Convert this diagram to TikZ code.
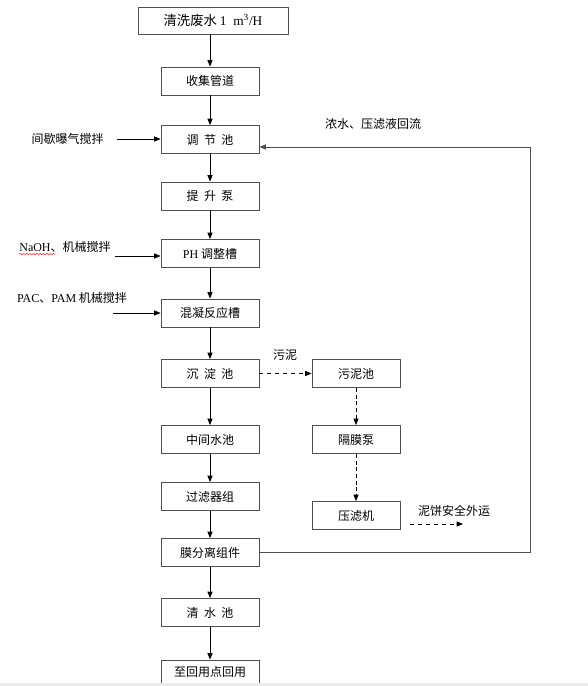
\documentclass[tikz,border=0pt]{standalone}
\usepackage{fontspec}
\setmainfont{Liberation Serif}
\newfontfamily\cjk{Noto Sans CJK SC}
\usepackage{xcolor}
\usetikzlibrary{arrows.meta,decorations.pathmorphing}
\definecolor{ink}{HTML}{505050}

\begin{document}
\begin{tikzpicture}[
  x=0.75pt, y=0.75pt,
  font=\fontsize{9}{11}\selectfont\cjk,
  box/.style={draw=ink, line width=0.65pt, fill=white, inner sep=0pt, minimum width=98*0.75pt, minimum height=28*0.75pt},
  sidebox/.style={box, minimum width=88*0.75pt},
  arrow/.style={-{Triangle[length=4.8pt,width=3.8pt]}, line width=0.6pt, draw=black},
  dasharrow/.style={arrow, dashed},
  finearrow/.style={arrow, densely dashed, line width=0.55pt},
  lbl/.style={inner sep=0pt}
]
\useasboundingbox (0,0) rectangle (588,686);
\clip (0,0) rectangle (588,686);

% main column
\node[box, minimum width=150*0.75pt, minimum height=27*0.75pt, font=\fontsize{10}{12}\selectfont\cjk] (inflow) at (213,665.5) {清洗废水 {\rmfamily 1\ \ m\textsuperscript{3}/H}};
\node[box] (pipe) at (210,605) {收集管道};
\node[box] (tank) at (210,546.5) {调\ \ 节\ \ 池};
\node[box] (pump) at (210,490) {提\ \ 升\ \ 泵};
\node[box] (ph) at (210,432.5) {{\rmfamily PH} 调整槽};
\node[box] (coag) at (210,373) {混凝反应槽};
\node[box] (settle) at (210,312.5) {沉\ \ 淀\ \ 池};
\node[box] (mid) at (210,246.5) {中间水池};
\node[box] (filt) at (210,189.5) {过滤器组};
\node[box] (memb) at (210,133.5) {膜分离组件};
\node[box] (clear) at (210,73.5) {清\ \ 水\ \ 池};
\node[box, minimum height=34*0.75pt, text depth=8pt] (reuse) at (210,9) {至回用点回用};

% sludge column
\node[sidebox] (sludge) at (356,312.5) {污泥池};
\node[sidebox] (dpump) at (356,246.5) {隔膜泵};
\node[sidebox] (press) at (356,170.5) {压滤机};

% labels
\node[lbl] (aerlbl) at (67.5,547) {间歇曝气搅拌};
\node[lbl] (naohlbl) at (65,439) {{\rmfamily NaOH}、机械搅拌};
\node[lbl] (paclbl) at (72,388) {{\rmfamily PAC}、{\rmfamily PAM} 机械搅拌};
\node[lbl] (retlbl) at (373,562) {浓水、压滤液回流};
\node[lbl] (sludgelbl) at (285,331) {污泥};
\node[lbl] (cakelbl) at (454,175) {泥饼安全外运};

\coordinate (aerin) at (117,547);
\coordinate (naohin) at (115,430);
\coordinate (pacin) at (113,373);
\coordinate (ret) at (530,539);
\coordinate (cakeout) at (410,162);
\coordinate (cakeend) at (463,162);

\draw[red!80, line width=0.4pt, decorate, decoration={snake, amplitude=0.6pt, segment length=2.5pt}]
  ([yshift=-1pt]naohlbl.south west) -- ++(37,0);

% main flow
\draw[arrow] (inflow) -- (inflow.south -| pipe) -- (pipe);
\draw[arrow] (pipe) -- (tank);
\draw[arrow] (tank) -- (pump);
\draw[arrow] (pump) -- (ph);
\draw[arrow] (ph) -- (coag);
\draw[arrow] (coag) -- (settle);
\draw[arrow] (settle) -- (mid);
\draw[arrow] (mid) -- (filt);
\draw[arrow] (filt) -- (memb);
\draw[arrow] (memb) -- (clear);
\draw[arrow] (clear) -- (reuse);

% dosing
\draw[arrow] (aerin) -- (aerin -| tank.west);
\draw[arrow] (naohin) -- (naohin -| ph.west);
\draw[arrow] (pacin) -- (pacin -| coag.west);

% return line
\draw[arrow, draw=ink] (memb.east) -| (ret) -- (ret -| tank.east);

% sludge path
\draw[dasharrow] (settle) -- (sludge);
\draw[finearrow] (sludge) -- (dpump);
\draw[finearrow] (dpump) -- (press);
\draw[dasharrow] (cakeout) -- (cakeend);

% page edge
\fill[gray!15] (0,0) rectangle (588,3);
\end{tikzpicture}
\end{document}
